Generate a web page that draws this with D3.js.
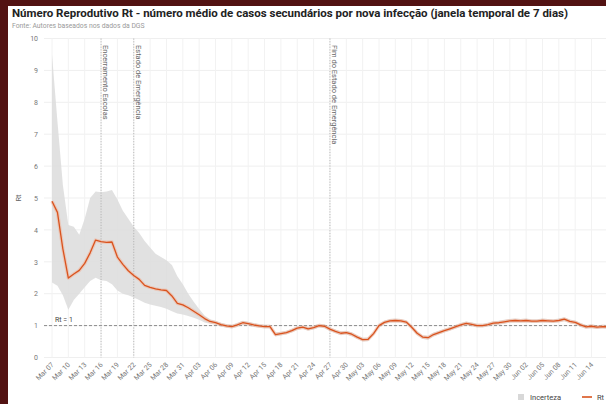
<!DOCTYPE html>
<html>
<head>
<meta charset="utf-8">
<script src="https://cdn.jsdelivr.net/npm/d3@7"></script>
<style>
html,body{margin:0;padding:0;background:#fff;overflow:hidden;}
svg{display:block;font-family:Roboto,"Noto Sans",sans-serif;}
</style>
</head>
<body>
<svg id="chart" width="606" height="404"></svg>
<script>
// ---- data ----
const startDate = "2020-03-07";
const rt = [4.90,4.55,3.40,2.49,2.62,2.73,2.95,3.28,3.68,3.63,3.61,3.62,3.15,2.92,2.72,2.57,2.45,2.26,2.20,2.15,
  2.12,2.10,1.93,1.70,1.65,1.56,1.45,1.34,1.22,1.13,1.09,1.03,0.99,0.97,1.02,1.09,1.06,1.02,0.99,0.97,
  0.97,0.72,0.75,0.78,0.84,0.92,0.95,0.90,0.94,1.00,0.98,0.89,0.82,0.76,0.78,0.73,0.64,0.56,0.57,0.75,
  1.00,1.10,1.15,1.16,1.15,1.11,0.95,0.76,0.64,0.62,0.72,0.78,0.84,0.90,0.96,1.02,1.07,1.04,1.00,1.00,
  1.03,1.08,1.09,1.12,1.15,1.16,1.15,1.16,1.14,1.14,1.16,1.15,1.14,1.16,1.20,1.13,1.10,1.02,0.96,0.98,
  0.95,0.97,0.96];
const upper = [9.5,7.4,5.4,4.15,4.1,3.85,4.35,5.0,5.2,5.18,5.2,5.25,4.95,4.6,4.35,4.1,3.9,3.65,3.45,3.25,
  3.15,3.05,2.9,2.55,2.3,2.0,1.75,1.52,1.32,1.2,1.15,1.09,1.05,1.03,1.08,1.15,1.12,1.08,1.05,1.03,
  1.03,0.78,0.81,0.84,0.9,0.98,1.01,0.96,1.0,1.06,1.04,0.95,0.88,0.82,0.84,0.79,0.7,0.62,0.63,0.81,
  1.06,1.16,1.21,1.22,1.21,1.17,1.01,0.82,0.7,0.68,0.78,0.84,0.9,0.96,1.02,1.08,1.13,1.1,1.06,1.06,
  1.09,1.14,1.15,1.18,1.21,1.22,1.21,1.22,1.2,1.2,1.22,1.21,1.2,1.22,1.26,1.19,1.16,1.08,1.02,1.04,
  1.01,1.03,1.02];
const lower = [2.35,2.25,1.95,1.5,1.8,2.0,2.2,2.4,2.5,2.42,2.4,2.3,2.1,2.0,1.95,1.88,1.8,1.72,1.66,1.62,
  1.58,1.53,1.45,1.38,1.35,1.3,1.25,1.18,1.1,1.06,1.03,0.97,0.93,0.91,0.96,1.03,1.0,0.96,0.93,0.91,
  0.91,0.66,0.69,0.72,0.78,0.86,0.89,0.84,0.88,0.94,0.92,0.83,0.76,0.7,0.72,0.67,0.58,0.5,0.51,0.69,
  0.94,1.04,1.09,1.1,1.09,1.05,0.89,0.7,0.58,0.56,0.66,0.72,0.78,0.84,0.9,0.96,1.01,0.98,0.94,0.94,
  0.97,1.02,1.03,1.06,1.09,1.1,1.09,1.1,1.08,1.08,1.1,1.09,1.08,1.1,1.14,1.07,1.04,0.96,0.9,0.92,
  0.89,0.91,0.9];
const tickDates = ["2020-03-07","2020-03-10","2020-03-13","2020-03-16","2020-03-19","2020-03-22","2020-03-25",
  "2020-03-28","2020-03-31","2020-04-03","2020-04-06","2020-04-09","2020-04-12","2020-04-15","2020-04-18",
  "2020-04-21","2020-04-24","2020-04-27","2020-04-30","2020-05-03","2020-05-06","2020-05-09","2020-05-12",
  "2020-05-15","2020-05-18","2020-05-21","2020-05-24","2020-05-27","2020-05-30","2020-06-02","2020-06-05",
  "2020-06-08","2020-06-11","2020-06-14"];
const tickLabels = ["Mar 07","Mar 10","Mar 13","Mar 16","Mar 19","Mar 22","Mar 25","Mar 28","Mar 31",
  "Apr 03","Apr 06","Apr 09","Apr 12","Apr 15","Apr 18","Apr 21","Apr 24","Apr 27","Apr 30","May 03",
  "May 06","May 09","May 12","May 15","May 18","May 21","May 24","May 27","May 30","Jun 02","Jun 05",
  "Jun 08","Jun 11","Jun 14"];
const yTicks = [0,1,2,3,4,5,6,7,8,9,10];
const eventDates = ["2020-03-16","2020-03-22","2020-04-27"];
const eventLabels = ["Encerramento Escolas","Estado de Emergência","Fim do Estado de Emergência"];
const titleText = "Número Reprodutivo Rt - número médio de casos secundários por nova infecção (janela temporal de 7 dias)";
const subtitleText = "Fonte: Autores baseados nos dados da DGS";
const legendLabels = ["Incerteza","Rt"];

// ---- build ----
const parse = d3.utcParse("%Y-%m-%d");
const t0 = parse(startDate);
const data = rt.map((v,i)=>({date:d3.utcDay.offset(t0,i), rt:v, up:upper[i], lo:lower[i]}));

const svg = d3.select("#chart");
const W = 606, H = 404;
svg.append("rect").attr("width",W).attr("height",H).attr("fill","#521212");
svg.append("rect").attr("x",8).attr("y",6).attr("width",W).attr("height",H).attr("fill","#ffffff");

const x = d3.scaleUtc().domain([t0, d3.utcDay.offset(t0, rt.length-1)]).range([52, 52 + 5.45*(rt.length-1)]);
const y = d3.scaleLinear().domain([0,10]).range([357.5, 38.5]);
const plotL = 44, plotR = 640;

// gridlines
const grid = svg.append("g");
grid.selectAll("line.h").data(yTicks).join("line")
  .attr("x1",plotL).attr("x2",plotR).attr("y1",d=>y(d)).attr("y2",d=>y(d))
  .attr("stroke","#efefef").attr("stroke-width",1);
const td = tickDates.map(parse);
grid.selectAll("line.v").data(td).join("line")
  .attr("x1",d=>x(d)).attr("x2",d=>x(d)).attr("y1",y(10)).attr("y2",y(0))
  .attr("stroke","#f2f2f2").attr("stroke-width",1);

// band
svg.append("path").datum(data)
  .attr("d", d3.area().x(d=>x(d.date)).y0(d=>y(d.lo)).y1(d=>y(d.up)))
  .attr("fill","#dcdcdc").attr("opacity",0.85);

// Rt=1 line
svg.append("line").attr("x1",plotL).attr("x2",plotR).attr("y1",y(1)).attr("y2",y(1))
  .attr("stroke","#8a8a8a").attr("stroke-width",1).attr("stroke-dasharray","3,2");
svg.append("text").attr("x",55).attr("y",y(1)-4).text("Rt = 1")
  .attr("font-size",7).attr("fill","#444");

// event lines
const ev = svg.append("g");
eventDates.forEach((ds,i)=>{
  const ex = x(parse(ds));
  ev.append("line").attr("x1",ex).attr("x2",ex).attr("y1",y(10)).attr("y2",y(0))
    .attr("stroke","#aaaaaa").attr("stroke-width",0.8).attr("stroke-dasharray","1.2,1.5");
  ev.append("text").attr("transform",`translate(${ex+2},45) rotate(90)`)
    .attr("font-size",7.5).attr("fill","#666").text(eventLabels[i]);
});

// Rt line
const line = d3.line().x(d=>x(d.date)).y(d=>y(d.rt));
svg.append("path").datum(data).attr("d",line)
  .attr("fill","none").attr("stroke","#f4b093").attr("stroke-width",3.5).attr("opacity",0.5)
  .attr("stroke-linejoin","round");
svg.append("path").datum(data).attr("d",line)
  .attr("fill","none").attr("stroke","#d9531e").attr("stroke-width",1.3)
  .attr("stroke-linejoin","round");

// y axis
const yAxis = d3.axisLeft(y).tickValues(yTicks).tickSize(0).tickPadding(0);
const yg = svg.append("g").attr("transform","translate(38,0)").call(yAxis);
yg.select(".domain").remove();
yg.selectAll("text").attr("font-size",7).attr("fill","#777").attr("font-family","Roboto,sans-serif");
svg.append("text").attr("transform",`translate(21,${y(5)}) rotate(-90)`).attr("text-anchor","middle")
  .attr("font-size",7.5).attr("fill","#666").text("Rt");

// x axis
const xAxis = d3.axisBottom(x).tickValues(td).tickFormat((d,i)=>tickLabels[i]).tickSize(0).tickPadding(0);
const xg = svg.append("g").attr("transform",`translate(0,${y(0)+6})`).call(xAxis);
xg.select(".domain").remove();
xg.selectAll("text").attr("font-size",7).attr("fill","#777").attr("font-family","Roboto,sans-serif")
  .attr("text-anchor","end").attr("dy","0.35em").attr("transform","rotate(-45)");

// title
svg.append("text").attr("x",12).attr("y",17).attr("font-size",11.5).attr("font-weight",700)
  .attr("fill","#222").text(titleText);
svg.append("text").attr("x",12).attr("y",28).attr("font-size",6.8).attr("fill","#999").text(subtitleText);

// legend
const lg = svg.append("g");
lg.append("rect").attr("x",518).attr("y",394).attr("width",6).attr("height",6).attr("fill","#d8d8d8");
lg.append("text").attr("x",530).attr("y",400).attr("font-size",7.5).attr("fill","#444").text(legendLabels[0]);
lg.append("line").attr("x1",582).attr("x2",592).attr("y1",397).attr("y2",397)
  .attr("stroke","#d9531e").attr("stroke-width",1.6);
lg.append("text").attr("x",597).attr("y",400).attr("font-size",7.5).attr("fill","#444").text(legendLabels[1]);
</script>
</body>
</html>
